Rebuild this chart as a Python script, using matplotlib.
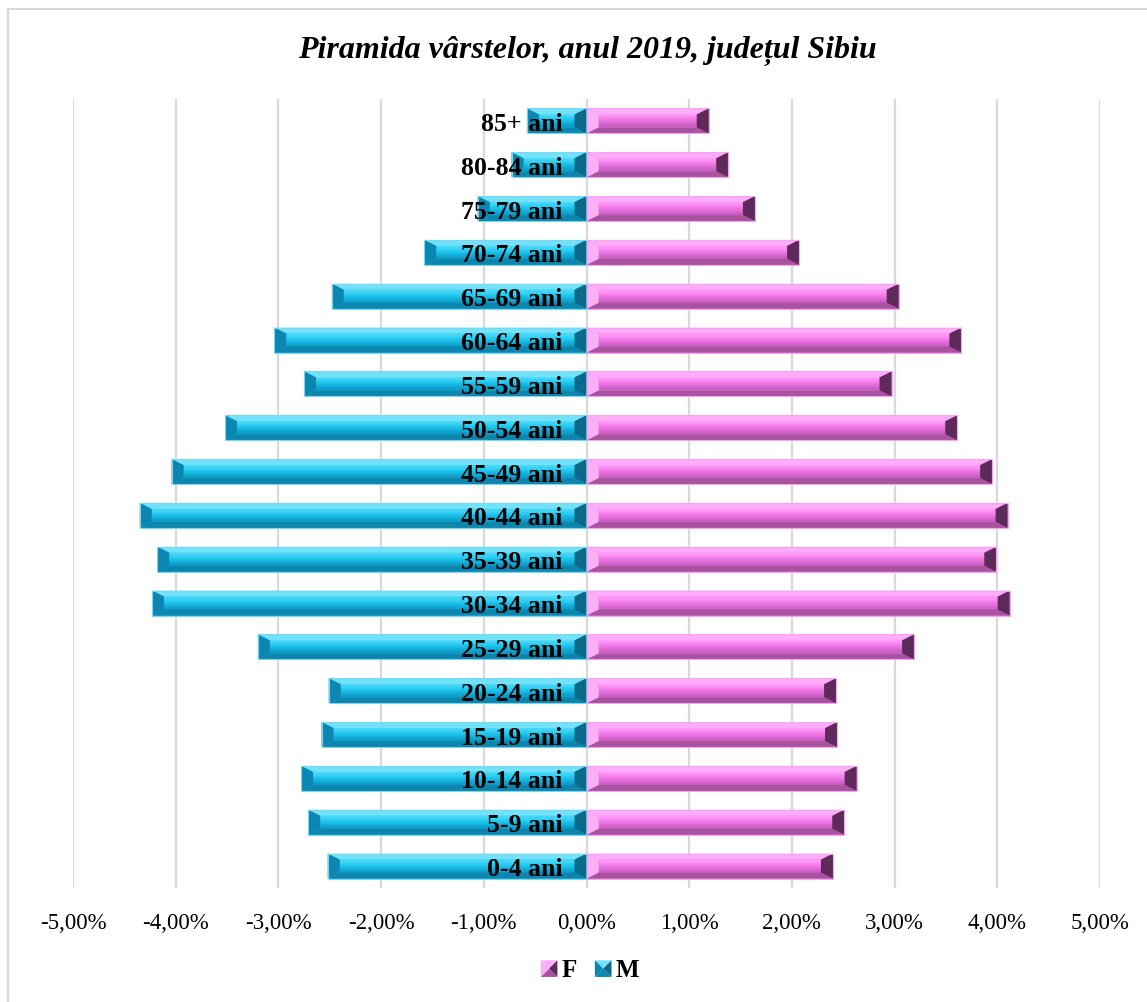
import numpy as np
import matplotlib
matplotlib.use("Agg")
import matplotlib.pyplot as plt
from matplotlib.patches import Polygon, Rectangle
from matplotlib.legend_handler import HandlerBase
from matplotlib.ticker import FuncFormatter

# Age groups, youngest first (bottom of the pyramid)
age_groups = ["0-4 ani", "5-9 ani", "10-14 ani", "15-19 ani", "20-24 ani",
              "25-29 ani", "30-34 ani", "35-39 ani", "40-44 ani", "45-49 ani",
              "50-54 ani", "55-59 ani", "60-64 ani", "65-69 ani", "70-74 ani",
              "75-79 ani", "80-84 ani", "85+ ani"]

# Share of total population (%), males shown as negative values
male_pct = [-2.52, -2.71, -2.78, -2.58, -2.51, -3.20, -4.23, -4.18, -4.35,
            -4.04, -3.52, -2.75, -3.04, -2.48, -1.58, -1.06, -0.73, -0.58]
female_pct = [2.40, 2.51, 2.63, 2.44, 2.43, 3.19, 4.12, 3.99, 4.10,
              3.95, 3.61, 2.97, 3.65, 3.04, 2.07, 1.64, 1.38, 1.19]

title = "Piramida vârstelor, anul 2019, județul Sibiu"
x_ticks = [-5, -4, -3, -2, -1, 0, 1, 2, 3, 4, 5]

# Bevel shading palettes: body, top, bottom, left end, right end, inner gradient
CYAN = dict(body="#1CC4EC", top="#72E2FA", bottom="#0C86AE", left="#0B86B0",
            right="#0A6A8A", grad=["#4AD6F6", "#22CBF2", "#14B7E2", "#0F9CC6"],
            edge="#7ED6EE")
PINK = dict(body="#F27CEA", top="#FFACFA", bottom="#A9529F", left="#F9B0F4",
            right="#5E2A5A", grad=["#FF9AF8", "#F47EEC", "#E46EDC", "#C95FC2"],
            edge="#F2A8EE")

W, H, DPI = 1147, 1003, 100
fig = plt.figure(figsize=(W / DPI, H / DPI), dpi=DPI)
fig.patch.set_facecolor("white")

ax_l, ax_r, ax_t, ax_b = 73, 1100, 100, 889
ax = fig.add_axes([ax_l / W, 1 - ax_b / H, (ax_r - ax_l) / W, (ax_b - ax_t) / H])
ax.set_xlim(-5, 5)
ax.set_ylim(-0.5, len(age_groups) - 0.5)

serif = ["Liberation Serif", "DejaVu Serif"]

# pixel -> data unit conversion for bevel sizes
px_x = 10.0 / (ax_r - ax_l)
px_y = len(age_groups) / (ax_b - ax_t)


def bevel(ax, L, R, B, T, pal, bx_px=12, by_px=6):
    bx = min(bx_px * px_x, (R - L) / 3)
    by = by_px * px_y
    iL, iR, iB, iT = L + bx, R - bx, B + by, T - by
    grad = np.array([matplotlib.colors.to_rgb(c) for c in pal["grad"]])[:, None, :]
    ax.imshow(grad, extent=(iL, iR, iB, iT), origin="upper", aspect="auto",
              interpolation="bicubic", zorder=2)
    polys = [
        ([(L, T), (R, T), (iR, iT), (iL, iT)], pal["top"]),
        ([(L, B), (R, B), (iR, iB), (iL, iB)], pal["bottom"]),
        ([(L, B), (iL, iB), (iL, iT), (L, T)], pal["left"]),
        ([(R, B), (iR, iB), (iR, iT), (R, T)], pal["right"]),
    ]
    for pts, c in polys:
        ax.add_patch(Polygon(pts, closed=True, facecolor=c, edgecolor="none",
                             zorder=3))
    ax.add_patch(Rectangle((L, B), R - L, T - B, facecolor="none",
                           edgecolor=pal["edge"], lw=0.8, zorder=4))


y = np.arange(len(age_groups))
bar_h = 0.57
m_bars = ax.barh(y, male_pct, height=bar_h, color=CYAN["body"], zorder=1)
f_bars = ax.barh(y, female_pct, height=bar_h, color=PINK["body"], zorder=1)

for bars, pal in ((m_bars, CYAN), (f_bars, PINK)):
    for p in bars:
        x0, w = p.get_x(), p.get_width()
        L, R = min(x0, x0 + w), max(x0, x0 + w)
        B, T = p.get_y(), p.get_y() + p.get_height()
        bevel(ax, L, R, B, T, pal)

ax.set_xlim(-5, 5)
ax.set_ylim(-0.5, len(age_groups) - 0.5)

# Category labels sit just left of the zero line, over the bars
for yi, lab in zip(y, age_groups):
    ax.annotate(lab, xy=(0, yi), xytext=(-24, 0), textcoords="offset pixels",
                ha="right", va="center_baseline", fontsize=18.5,
                fontweight="bold", family=serif, color="black", zorder=6)

ax.set_xticks(x_ticks)
ax.xaxis.set_major_formatter(
    FuncFormatter(lambda v, _: f"{v:.2f}%".replace(".", ",").replace("-0,00", "0,00")))
ax.tick_params(axis="x", length=0, pad=17, labelsize=16.5)
for t in ax.get_xticklabels():
    t.set_family(serif)
ax.set_yticks([])
ax.grid(axis="x", color="#D9D9D9", lw=1.6, zorder=0)
ax.set_axisbelow(True)
for s in ax.spines.values():
    s.set_visible(False)

fig.text(587 / W, 1 - 51 / H, title, ha="center", va="center", fontsize=23,
         fontweight="bold", fontstyle="italic", family=serif)


class BevelSquare(HandlerBase):
    def __init__(self, pal):
        super().__init__()
        self.pal = pal

    def create_artists(self, legend, orig_handle, xdescent, ydescent, width,
                       height, fontsize, trans):
        s = height * 0.95
        L = -xdescent + width - s
        B = -ydescent + (height - s) / 2 - height * 0.05
        R, T = L + s, B + s
        cx, cy = L + s / 2, B + s / 2
        pal = self.pal
        arts = [
            Polygon([(L, T), (R, T), (cx, cy)], facecolor=pal["top"], edgecolor="none"),
            Polygon([(L, B), (R, B), (cx, cy)], facecolor=pal["bottom"], edgecolor="none"),
            Polygon([(L, B), (L, T), (cx, cy)], facecolor=pal["left"], edgecolor="none"),
            Polygon([(R, B), (R, T), (cx, cy)], facecolor=pal["right"], edgecolor="none"),
        ]
        for a in arts:
            a.set_transform(trans)
        return arts


h_f = Rectangle((0, 0), 1, 1)
h_m = Rectangle((0, 0), 1, 1)
leg = fig.legend([h_f, h_m], ["F", "M"], loc="center", ncol=2,
                 bbox_to_anchor=(590 / W, 1 - 971 / H), frameon=False,
                 handler_map={h_f: BevelSquare(PINK), h_m: BevelSquare(CYAN)},
                 prop=dict(family=serif, weight="bold", size=18),
                 handlelength=0.65, handletextpad=0.15, columnspacing=0.75)

# Chart area border
fig.add_artist(Rectangle((8 / W, -0.05), 1.2, 1 - 10 / H + 0.05,
                         transform=fig.transFigure, facecolor="none",
                         edgecolor="#D9D9D9", lw=1.5))

fig.savefig("out.png", dpi=DPI, facecolor="white")
